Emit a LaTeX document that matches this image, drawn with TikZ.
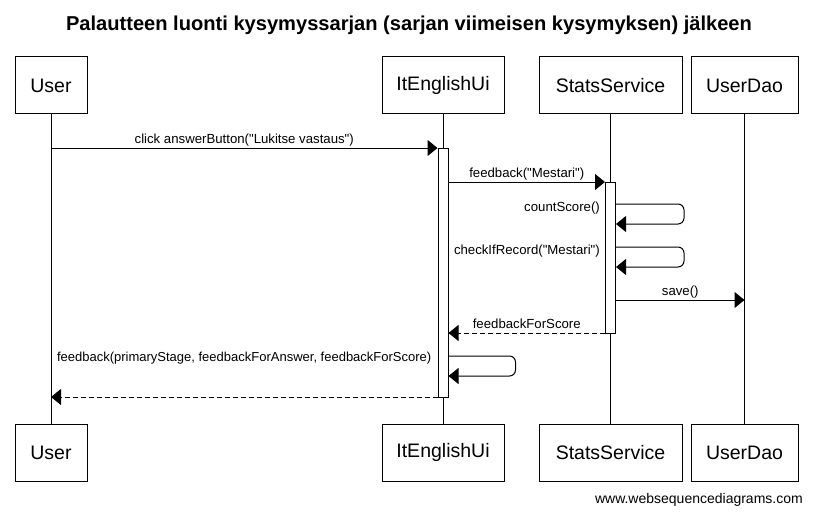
\documentclass[tikz,border=0pt]{standalone}
\usepackage{fontspec}
\setmainfont{Liberation Sans}[Ligatures=TeXOff]
\usetikzlibrary{positioning,arrows.meta}

\begin{document}
\begin{tikzpicture}[
  x=1pt,y=-1pt,
  box/.style={draw,line width=1pt,minimum height=57pt,inner sep=0pt,
    font=\fontsize{19.5}{23}\selectfont},
  act/.style={draw,fill=white,line width=1pt,minimum width=10pt,inner sep=0pt},
  msg/.style={line width=1pt,-{Triangle[length=10pt,width=16pt]}},
  ret/.style={msg,dash pattern=on 5pt off 3pt},
  lbl/.style={font=\fontsize{13.2}{16}\selectfont,inner sep=0pt},
  ]
  \useasboundingbox (0,0) rectangle (813,516);
  \node[font=\bfseries\fontsize{20.1}{24}\selectfont] (title)
    at (409,25) {Palautteen luonti kysymyssarjan (sarjan viimeisen kysymyksen) jälkeen};

  % participants
  \node[box,minimum width=72pt] (user) at (51,85.5) {User};
  \node[box,minimum width=122pt] (ui) at (443,85.5) {ItEnglishUi};
  \node[box,minimum width=143pt] (stats) at (610.5,85.5) {StatsService};
  \node[box,minimum width=107pt] (dao) at (744.5,85.5) {UserDao};

  \node[box,minimum width=72pt] (user2) at (51,452.5) {User};
  \node[box,minimum width=122pt] (ui2) at (443,452.5) {ItEnglishUi};
  \node[box,minimum width=143pt] (stats2) at (610.5,452.5) {StatsService};
  \node[box,minimum width=107pt] (dao2) at (744.5,452.5) {UserDao};

  \draw[line width=1pt] (user) -- (user2);
  \draw[line width=1pt] (ui) -- (ui2);
  \draw[line width=1pt] (stats) -- (stats2);
  \draw[line width=1pt] (dao) -- (dao2);

  \node[act,minimum height=249pt] (uiact) at (443,272.5) {};
  \node[act,minimum height=151pt] (statsact) at (610.5,257.5) {};

  % message rows
  \coordinate (r1) at (0,148);
  \coordinate (r2) at (0,182);
  \coordinate (r3) at (0,204);
  \coordinate (r4) at (0,247);
  \coordinate (r5) at (0,300);
  \coordinate (r6) at (0,333);
  \coordinate (r7) at (0,356);
  \coordinate (r8) at (0,397);

  \draw[msg]
    (user.south |- r1) -- (uiact.west |- r1)
    node[lbl,midway,anchor=base,yshift=5pt] (l1) {click answerButton("Lukitse vastaus")};
  \draw[msg]
    (uiact.east |- r2) -- (statsact.west |- r2)
    node[lbl,midway,anchor=base,yshift=5pt] (l2) {feedback("Mestari")};
  \draw[msg,rounded corners=6pt]
    (statsact.east |- r3) -- ++(68,0) -- ++(0,20) -- ([yshift=-20pt]statsact.east |- r3);
  \node[lbl,anchor=base east] (l3)
    at ([xshift=-5pt,yshift=-7pt]statsact.west |- r3) {countScore()};
  \draw[msg,rounded corners=6pt]
    (statsact.east |- r4) -- ++(68,0) -- ++(0,20) -- ([yshift=-20pt]statsact.east |- r4);
  \node[lbl,anchor=base east] (l4)
    at ([xshift=-5pt,yshift=-7pt]statsact.west |- r4) {checkIfRecord("Mestari")};
  \draw[msg]
    (statsact.east |- r5) -- (dao.south |- r5)
    node[lbl,midway,anchor=base,yshift=5pt] (l5) {save()};
  \draw[ret]
    (statsact.west |- r6) -- (uiact.east |- r6)
    node[lbl,midway,anchor=base,yshift=5pt] (l6) {feedbackForScore};
  \draw[msg,rounded corners=6pt]
    (uiact.east |- r7) -- ++(67,0) -- ++(0,20) -- ([yshift=-20pt]uiact.east |- r7);
  \node[lbl,anchor=base east,font=\fontsize{13}{16}\selectfont] (l7)
    at ([xshift=-6pt,yshift=-5pt]uiact.west |- r7) {feedback(primaryStage, feedbackForAnswer, feedbackForScore)};
  \draw[ret]
    (uiact.west |- r8) -- (user.south |- r8);

  \node[lbl,anchor=base east,font=\fontsize{14}{16}\selectfont] (wsd)
    at (803,503) {www.websequencediagrams.com};
\end{tikzpicture}
\end{document}
